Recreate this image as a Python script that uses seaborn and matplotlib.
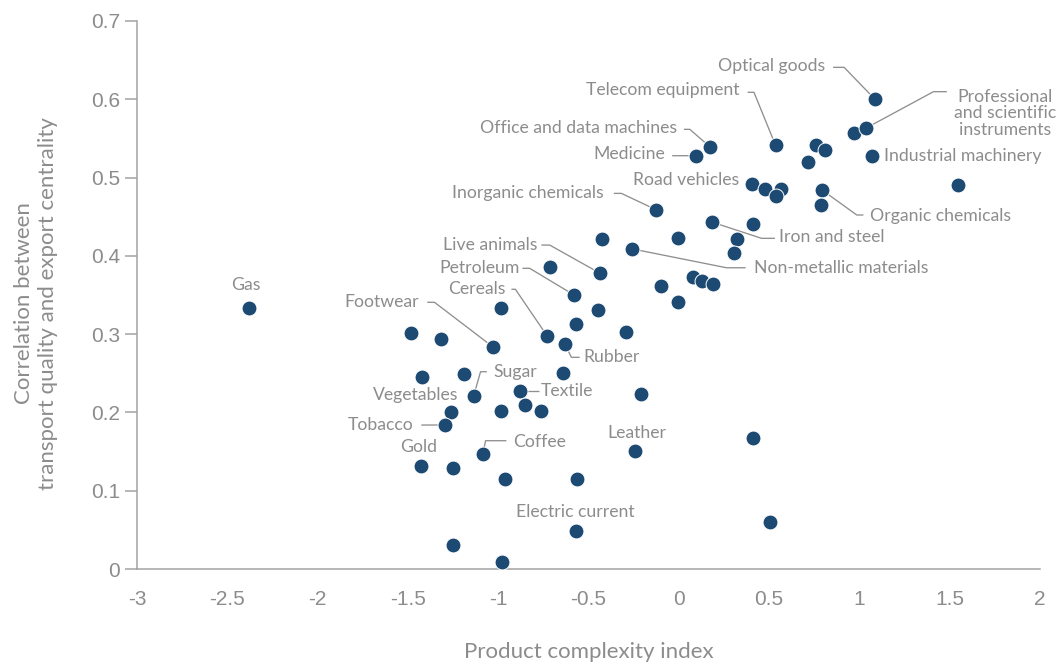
import matplotlib
matplotlib.use("Agg")
import matplotlib.pyplot as plt
import seaborn as sns
import pandas as pd

# ---------------- data ----------------
pci = [-2.378, -1.482, -1.315, -1.031, -0.987, -1.423, -1.190, -1.136, -1.262, -1.295,
       -0.987, -0.881, -0.854, -0.765, -0.641, -1.085, -1.430, -1.253, -0.961, -0.562,
       -0.569, -1.253, -0.977, -0.242, -0.207, 0.410, 0.504, -0.730, -0.632, -0.569,
       -0.580, -0.715, -0.438, -0.447, -0.290, -0.428, -0.261, -0.127, -0.004, -0.101,
       -0.004, 0.078, 0.129, 0.190, 0.185, 0.413, 0.324, 0.307, 0.093, 0.173,
       0.536, 0.405, 0.477, 0.564, 0.538, 0.758, 0.811, 0.713, 0.794, 0.785,
       0.970, 1.035, 1.086, 1.068, 1.548]
corr = [0.333, 0.302, 0.294, 0.284, 0.333, 0.245, 0.249, 0.221, 0.200, 0.184,
        0.202, 0.227, 0.210, 0.202, 0.251, 0.147, 0.131, 0.129, 0.115, 0.115,
        0.049, 0.031, 0.009, 0.151, 0.223, 0.167, 0.060, 0.298, 0.288, 0.313,
        0.350, 0.386, 0.378, 0.331, 0.303, 0.421, 0.409, 0.459, 0.423, 0.362,
        0.341, 0.373, 0.368, 0.364, 0.443, 0.441, 0.421, 0.404, 0.528, 0.539,
        0.541, 0.492, 0.486, 0.486, 0.476, 0.541, 0.535, 0.520, 0.484, 0.465,
        0.557, 0.563, 0.600, 0.528, 0.490]
product = ["Gas", "", "", "Footwear", "", "", "", "Sugar", "", "Tobacco",
           "", "Textile", "", "", "", "Coffee", "Gold", "", "", "",
           "Electric current", "", "", "Leather", "", "", "", "Cereals", "Rubber", "",
           "Petroleum", "", "Live animals", "", "", "", "Non-metallic materials", "Inorganic chemicals", "", "",
           "", "", "", "", "Iron and steel", "", "", "", "Medicine", "Office and data machines",
           "Telecom equipment", "Road vehicles", "", "", "", "", "", "", "Organic chemicals", "",
           "", "Professional\nand scientific\ninstruments", "Optical goods", "Industrial machinery", ""]
vegetables_index = 7  # "Vegetables" shares the point labelled "Sugar"

x_ticks = [-3, -2.5, -2, -1.5, -1, -0.5, 0, 0.5, 1, 1.5, 2]
x_ticklabels = ["-3", "-2.5", "-2", "-1.5", "-1", "-0.5", "0", "0.5", "1", "1.5", "2"]
y_ticks = [0, 0.1, 0.2, 0.3, 0.4, 0.5, 0.6, 0.7]
y_ticklabels = ["0", "0.1", "0.2", "0.3", "0.4", "0.5", "0.6", "0.7"]

# ---------------- label layout (text anchor, alignment, connector waypoints) ----------------
layout = {
    "Gas": ((-2.400, 0.3628), "center", []),
    "Footwear": ((-1.436, 0.3414), "right", [(-1.393, 0.3407), (-1.353, 0.3407)]),
    "Cereals": ((-0.961, 0.3573), "right", [(-0.927, 0.3573), (-0.905, 0.3573)]),
    "Petroleum": ((-0.881, 0.3841), "right", [(-0.866, 0.3841), (-0.826, 0.3841)]),
    "Live animals": ((-0.783, 0.4138), "right", [(-0.761, 0.4138), (-0.715, 0.4138)]),
    "Inorganic chemicals": ((-0.416, 0.4806), "right", [(-0.360, 0.4798), (-0.318, 0.4798)]),
    "Medicine": ((-0.078, 0.5300), "right", [(-0.037, 0.5279)]),
    "Office and data machines": ((-0.007, 0.5629), "right", [(0.028, 0.5616), (0.061, 0.5616)]),
    "Telecom equipment": ((0.334, 0.6118), "right", [(0.381, 0.6089), (0.416, 0.6089)]),
    "Optical goods": ((0.813, 0.6431), "right", [(0.854, 0.6408), (0.915, 0.6408)]),
    "Professional\nand scientific\ninstruments": ((1.807, 0.5821), "center", [(1.484, 0.6097), (1.410, 0.6097)]),
    "Industrial machinery": ((1.136, 0.5275), "left", []),
    "Road vehicles": ((0.334, 0.4969), "right", []),
    "Organic chemicals": ((1.059, 0.4513), "left", [(1.022, 0.4522), (0.985, 0.4522)]),
    "Iron and steel": ((0.556, 0.4237), "left", [(0.532, 0.4224), (0.458, 0.4224)]),
    "Non-metallic materials": ((0.416, 0.3841), "left", [(0.370, 0.3848), (0.264, 0.3848)]),
    "Rubber": ((-0.530, 0.2704), "left", [(-0.549, 0.2704), (-0.595, 0.2704)]),
    "Sugar": ((-1.029, 0.2520), "left", [(-1.063, 0.2520), (-1.098, 0.2520)]),
    "Textile": ((-0.765, 0.2270), "left", [(-0.776, 0.2270)]),
    "Tobacco": ((-1.467, 0.1839), "right", [(-1.426, 0.1839)]),
    "Gold": ((-1.440, 0.1554), "center", []),
    "Coffee": ((-0.919, 0.1618), "left", [(-0.955, 0.1639), (-1.070, 0.1639)]),
    "Leather": ((-0.234, 0.1741), "center", []),
    "Electric current": ((-0.573, 0.0732), "center", []),
}
vegetables_layout = ((-1.218, 0.2223), "right")

# ---------------- styling ----------------
sns.set_style("white")
plt.rcParams["font.family"] = ["Lato", "DejaVu Sans"]

DOT = "#1d4a72"
GREY = "#8c8c8c"
LINE = "#8f8f8f"
SPINE = "#a3a3a3"

df = pd.DataFrame({"pci": pci, "corr": corr, "product": product})

fig = plt.figure(figsize=(10.63, 6.66), dpi=100)
ax = fig.add_axes([0.1289, 0.1456, 0.8495, 0.8229])

sns.scatterplot(data=df, x="pci", y="corr", ax=ax, color=DOT, s=115,
                edgecolor="white", linewidth=0.7, zorder=3, clip_on=False, legend=False)

label_kw = dict(fontsize=12.7, color=GREY, va="center")
for name, (px, py) in zip(df["product"], zip(df["pci"], df["corr"])):
    if not name:
        continue
    (tx, ty), ha, path = layout[name]
    ax.text(tx, ty, name, ha=ha, linespacing=1.05, **label_kw)
    if path:
        xs = [p[0] for p in path] + [px]
        ys = [p[1] for p in path] + [py]
        ax.plot(xs, ys, color=LINE, lw=0.95, zorder=2, solid_capstyle="butt")
(vx, vy), vha = vegetables_layout
ax.text(vx, vy, "Vegetables", ha=vha, **label_kw)

ax.set_xlim(-3, 2)
ax.set_ylim(0, 0.7)
ax.set_xticks(x_ticks)
ax.set_xticklabels(x_ticklabels)
ax.set_yticks(y_ticks)
ax.set_yticklabels(y_ticklabels)

tick_font = ["Liberation Sans", "DejaVu Sans"]
for lab in ax.get_xticklabels() + ax.get_yticklabels():
    lab.set_family(tick_font)
    lab.set_fontsize(15)
    lab.set_color(GREY)

ax.tick_params(axis="x", length=0, pad=15)
ax.tick_params(axis="y", length=9, width=1.1, color=SPINE, pad=3, left=True)

for side in ["top", "right"]:
    ax.spines[side].set_visible(False)
for side in ["left", "bottom"]:
    ax.spines[side].set_color(SPINE)
    ax.spines[side].set_linewidth(1.1)

ax.set_xlabel("Product complexity index", fontsize=16, color=GREY)
ax.xaxis.set_label_coords(0.5, -0.133)
ax.set_ylabel("Correlation between\ntransport quality and export centrality",
              fontsize=16, color=GREY, linespacing=1.2)
ax.yaxis.set_label_coords(-0.088, 0.485)

fig.savefig("out.png", dpi=100)
